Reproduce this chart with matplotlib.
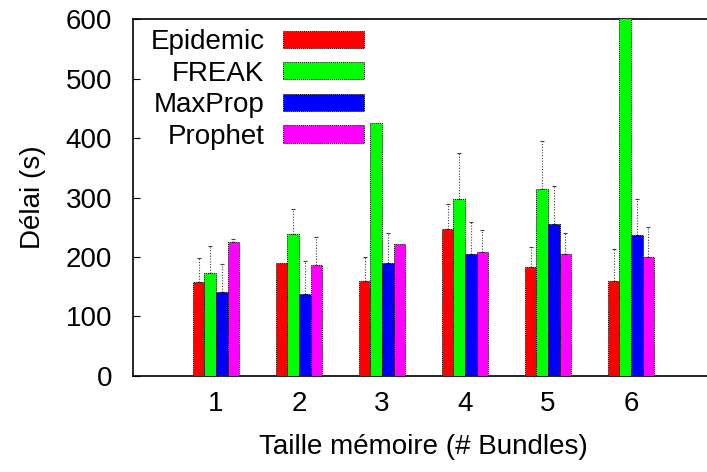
"""Grouped bar chart: delay per buffer size for four DTN routing protocols."""

import matplotlib

matplotlib.use("Agg")

import matplotlib.pyplot as plt  # noqa: E402
import numpy as np  # noqa: E402

plt.rcParams["font.family"] = ["Liberation Sans", "DejaVu Sans"]

SIZES = [1, 2, 3, 4, 5, 6]
PROTOCOLS = ["Epidemic", "FREAK", "MaxProp", "Prophet"]
COLORS = ["#ff0000", "#00ff00", "#0000ff", "#ff00ff"]

# mean delay (s) per buffer size
EPIDEMIC = [158, 190, 160, 247, 184, 160]
FREAK = [173, 239, 425, 297, 314, 650]
MAXPROP = [141, 138, 190, 205, 255, 237]
PROPHET = [225, 187, 222, 208, 205, 200]

# top of the error bar (s); nan where none is visible
EPIDEMIC_HI = [199, np.nan, 200, 289, 216, 213]
FREAK_HI = [218, 280, np.nan, 374, 395, np.nan]
MAXPROP_HI = [188, 194, 240, 258, 319, 297]
PROPHET_HI = [230, 234, np.nan, 245, 241, 250]

SERIES = [EPIDEMIC, FREAK, MAXPROP, PROPHET]
TOPS = [EPIDEMIC_HI, FREAK_HI, MAXPROP_HI, PROPHET_HI]
BAR_W = 0.14
FS = 20

fig = plt.figure(figsize=(7.07, 4.72), dpi=100)
ax = fig.add_axes((0.188, 0.2034, 0.822, 0.7563))

x = np.array(SIZES, dtype=float)
for i, (name, vals, tops, col) in enumerate(zip(PROTOCOLS, SERIES, TOPS, COLORS)):
    vals = np.array(vals, dtype=float)
    tops = np.array(tops, dtype=float)
    xs = x + (i - 1.5) * BAR_W
    ax.bar(xs, vals, width=BAR_W, color=col, edgecolor="black",
           linestyle=(0, (1, 1)), linewidth=0.7, label=name, zorder=3)
    err = tops - vals
    ok = ~np.isnan(err)
    eb = ax.errorbar(xs[ok], vals[ok], yerr=[np.zeros(ok.sum()), err[ok]], fmt="none",
                     ecolor="0.25", elinewidth=0.8, capsize=1.5, capthick=0.8, zorder=2)
    eb[2][0].set_linestyle((0, (1, 1.5)))

ax.set_xlim(0, 7)
ax.set_ylim(0, 600)
ax.set_xticks(SIZES)
ax.set_yticks(range(0, 601, 100))
ax.tick_params(direction="in", length=5, width=0.8, labelsize=FS, pad=15,
               right=True, top=False)
ax.tick_params(axis="x", pad=11)
for s in ax.spines.values():
    s.set_linewidth(1.2)

ax.set_xlabel("Taille mémoire (# Bundles)", fontsize=FS, labelpad=12)
ax.set_ylabel("Délai (s)", fontsize=FS, labelpad=14)

ax.legend(loc="upper left", bbox_to_anchor=(0.03, 0.972), markerfirst=False,
          frameon=False, fontsize=FS, handlelength=2.9, handleheight=0.58,
          handletextpad=0.68, labelspacing=0.2, borderpad=0, borderaxespad=0)

fig.savefig("out.png", dpi=100)
